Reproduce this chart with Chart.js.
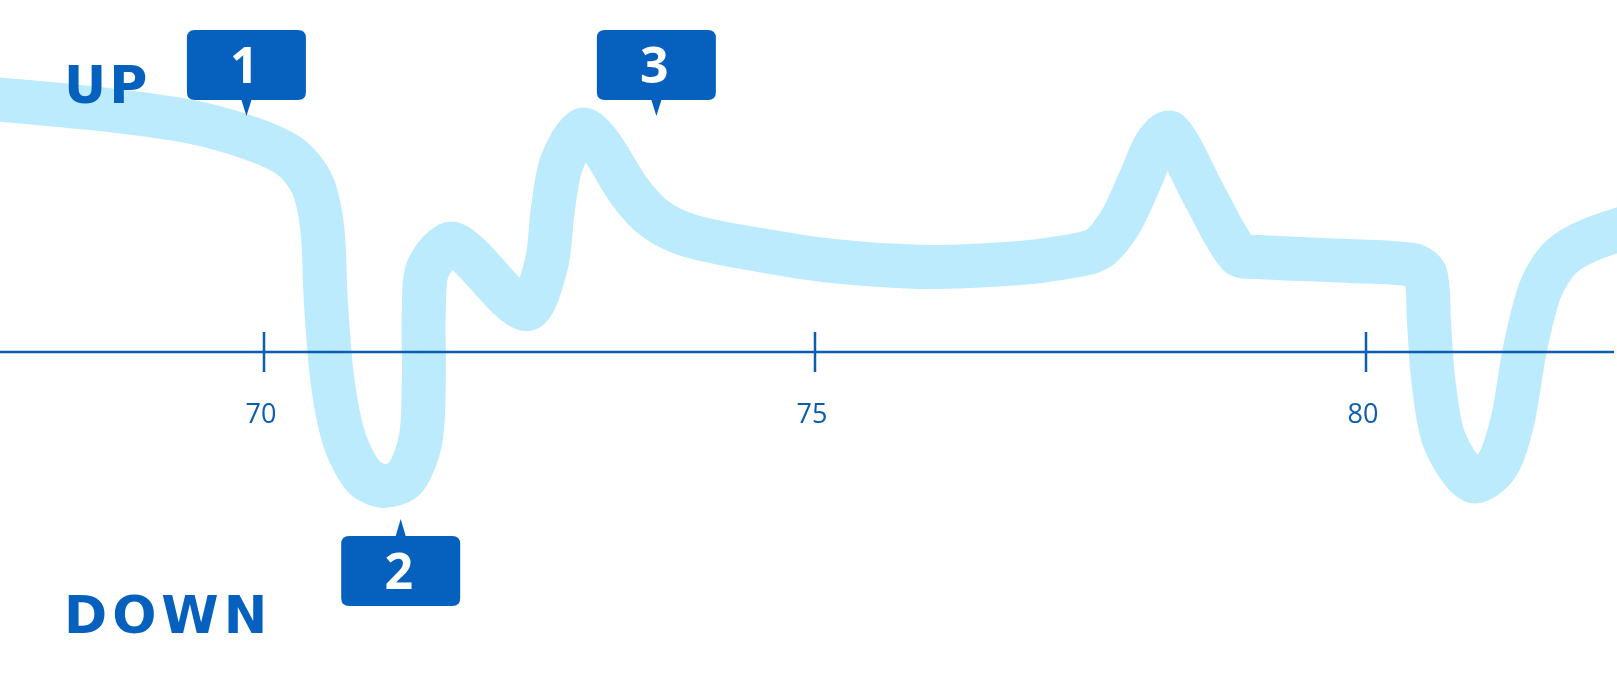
<!DOCTYPE html>
<html>
<head>
<meta charset="utf-8">
<script src="https://cdn.jsdelivr.net/npm/chart.js@4/dist/chart.umd.min.js"></script>
<style>
  html, body { margin: 0; padding: 0; background: #ffffff; overflow: hidden; }
  #wrap { width: 1617px; height: 694px; }
</style>
</head>
<body>
<div id="wrap"><canvas id="c" width="1617" height="694"></canvas></div>
<script>
// ---- data ----
const xValues = [67.24, 68.42, 69.30, 69.87, 70.24, 70.44, 70.53, 70.56, 70.62, 70.73, 70.90,
                 71.08, 71.28, 71.42, 71.45, 71.45, 71.49, 71.72, 72.37, 72.56, 72.62, 72.70,
                 72.89, 73.05, 73.32, 73.55, 73.87, 74.50, 75.16, 76.04, 76.86, 77.22, 77.56,
                 77.77, 77.95, 78.09, 78.22, 78.53, 78.84, 79.02, 79.85, 80.42, 80.54,
                 80.57, 80.61, 80.71, 80.97, 81.19, 81.33, 81.44, 81.58, 81.76, 82.03, 82.58];
const yValues = [2.56, 2.44, 2.31, 2.14, 1.95, 1.67, 1.22, 0.52, -0.28, -0.88, -1.24,
                 -1.34, -1.26, -0.88, -0.28, 0.42, 0.84, 1.08, 0.43, 0.87, 1.42, 1.89,
                 2.22, 2.07, 1.60, 1.33, 1.16, 1.02, 0.91, 0.85, 0.89, 0.94, 1.03,
                 1.30, 1.72, 2.07, 2.19, 1.57, 0.98, 0.95, 0.91, 0.87, 0.77,
                 0.32, -0.28, -0.88, -1.29, -1.13, -0.68, 0.02, 0.62, 0.94, 1.12, 1.32];
const tickValues = [70, 75, 80];
const tickLabels = ['70', '75', '80'];
const calloutLabels = ['1', '2', '3'];
const calloutX = [69.84, 71.24, 73.56];
const calloutSide = ['up', 'down', 'up'];
const sideLabels = ['UP', 'DOWN'];

const points = xValues.map((x, i) => ({ x: x, y: yValues[i] }));

const DARK = '#0560be';
const AXIS = '#0b5dae';

function drawSpaced(ctx, text, x, y, spacing) {
  let cx = x;
  for (const ch of text) {
    ctx.fillText(ch, cx, y);
    cx += ctx.measureText(ch).width + spacing;
  }
}

function roundRect(ctx, x, y, w, h, r) {
  ctx.beginPath();
  ctx.moveTo(x + r, y);
  ctx.lineTo(x + w - r, y);
  ctx.quadraticCurveTo(x + w, y, x + w, y + r);
  ctx.lineTo(x + w, y + h - r);
  ctx.quadraticCurveTo(x + w, y + h, x + w - r, y + h);
  ctx.lineTo(x + r, y + h);
  ctx.quadraticCurveTo(x, y + h, x, y + h - r);
  ctx.lineTo(x, y + r);
  ctx.quadraticCurveTo(x, y, x + r, y);
  ctx.closePath();
}

const overlay = {
  id: 'overlay',
  afterDatasetsDraw(chart) {
    const ctx = chart.ctx;
    const xs = chart.scales.x, ys = chart.scales.y;
    const y0 = ys.getPixelForValue(0);
    ctx.save();
    ctx.strokeStyle = AXIS;
    ctx.lineWidth = 2.5;
    ctx.beginPath();
    ctx.moveTo(0, y0);
    ctx.lineTo(1614, y0);
    ctx.stroke();
    ctx.fillStyle = AXIS;
    ctx.font = '27px "Open Sans"';
    ctx.textAlign = 'center';
    ctx.textBaseline = 'alphabetic';
    tickValues.forEach((v, i) => {
      const px = Math.round(xs.getPixelForValue(v));
      ctx.beginPath();
      ctx.moveTo(px, y0 - 20);
      ctx.lineTo(px, y0 + 20);
      ctx.stroke();
      ctx.fillText(tickLabels[i], px - 3, y0 + 71);
    });
    ctx.fillStyle = DARK;
    ctx.textAlign = 'left';
    ctx.font = 'bold 52px "DejaVu Sans"';
    drawSpaced(ctx, sideLabels[0], 64, 103, 3);
    drawSpaced(ctx, sideLabels[1], 64, 633, 5);
    const bw = 119, bh = 70;
    calloutLabels.forEach((lab, i) => {
      const px = xs.getPixelForValue(calloutX[i]);
      let top, tipY, baseY;
      if (calloutSide[i] === 'up') { top = 30; baseY = top + bh; tipY = 116; }
      else { top = 536; baseY = top; tipY = 519; }
      ctx.fillStyle = DARK;
      roundRect(ctx, px - bw / 2, top, bw, bh, 8);
      ctx.fill();
      ctx.beginPath();
      ctx.moveTo(px - 5, baseY);
      ctx.lineTo(px + 5, baseY);
      ctx.lineTo(px, tipY);
      ctx.closePath();
      ctx.fill();
      ctx.fillStyle = '#ffffff';
      ctx.font = 'bold 50px "Open Sans"';
      ctx.textAlign = 'center';
      ctx.fillText(lab, px - 2, top + bh / 2 + 18);
    });
    ctx.restore();
  }
};

new Chart(document.getElementById('c'), {
  type: 'line',
  data: {
    datasets: [{
      data: points,
      borderColor: '#bdebfe',
      borderWidth: 44,
      tension: 0.3,
      borderCapStyle: 'round',
      borderJoinStyle: 'round',
      pointRadius: 0,
      fill: false,
      clip: false
    }]
  },
  options: {
    responsive: false,
    animation: false,
    devicePixelRatio: 1,
    layout: { padding: 0, autoPadding: false },
    plugins: { legend: { display: false }, tooltip: { enabled: false } },
    scales: {
      x: { type: 'linear', min: 67.604, max: 82.277, display: false },
      y: { type: 'linear', min: -3.42, max: 3.52, display: false }
    }
  },
  plugins: [overlay]
});
</script>
</body>
</html>
